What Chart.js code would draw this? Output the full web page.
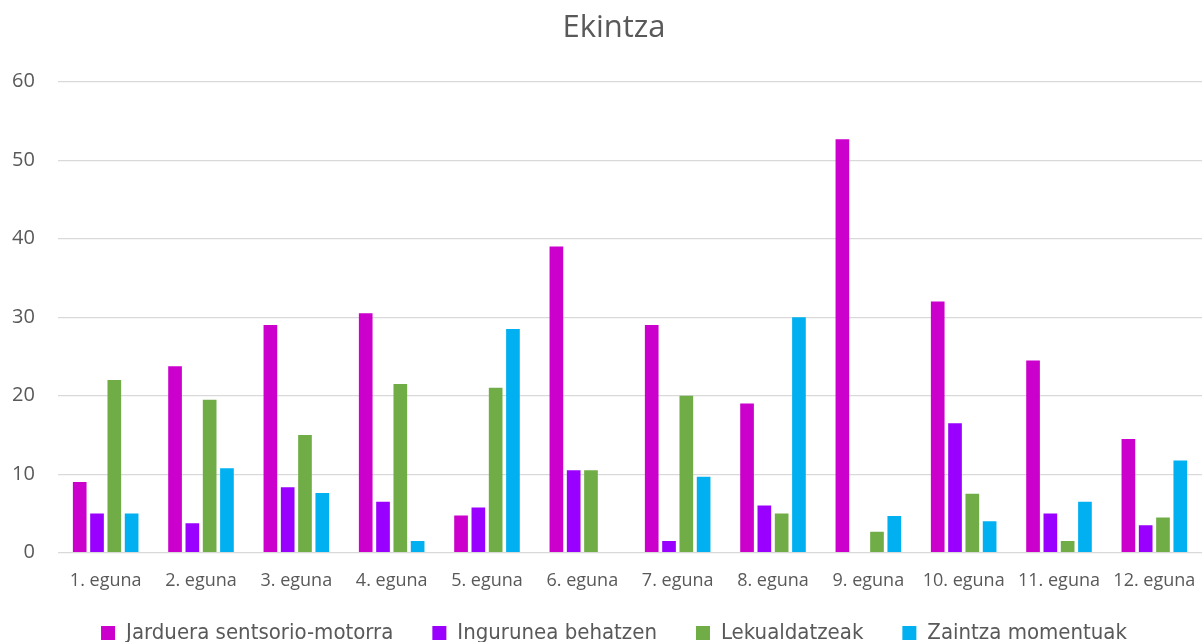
<!DOCTYPE html>
<html>
<head>
<meta charset="utf-8">
<script src="https://cdn.jsdelivr.net/npm/chart.js@4.4.1/dist/chart.umd.min.js"></script>
<style>
  html, body { margin: 0; padding: 0; background: #ffffff; }
  #wrap { width: 1202px; height: 642px; }
</style>
</head>
<body>
<div id="wrap"><canvas id="c" width="1202" height="642"></canvas></div>
<script>
const categories = ['1. eguna', '2. eguna', '3. eguna', '4. eguna', '5. eguna', '6. eguna',
                    '7. eguna', '8. eguna', '9. eguna', '10. eguna', '11. eguna', '12. eguna'];
const seriesNames = ['Jarduera sentsorio-motorra', 'Ingurunea behatzen', 'Lekualdatzeak', 'Zaintza momentuak'];
const jarduera   = [9, 23.75, 29, 30.5, 4.75, 39, 29, 19, 52.67, 32, 24.5, 14.5];
const ingurunea  = [5, 3.75, 8.33, 6.5, 5.75, 10.5, 1.5, 6, 0, 16.5, 5, 3.5];
const lekualdatz = [22, 19.5, 15, 21.5, 21, 10.5, 20, 5, 2.67, 7.5, 1.5, 4.5];
const zaintza    = [5, 10.75, 7.6, 1.5, 28.5, 0, 9.67, 30, 4.67, 4, 6.5, 11.75];
const yTicks = [0, 10, 20, 30, 40, 50, 60];
const chartTitle = 'Ekintza';

const colors = ['#CC00CC', '#9900FF', '#70AD47', '#00B0F0'];
const values = [jarduera, ingurunea, lekualdatz, zaintza];
const textColor = '#595959';

new Chart(document.getElementById('c'), {
  type: 'bar',
  data: {
    labels: categories,
    datasets: seriesNames.map((n, i) => ({
      label: n,
      data: values[i],
      backgroundColor: colors[i],
      borderWidth: 0,
      categoryPercentage: 0.726,
      barPercentage: 0.79
    }))
  },
  options: {
    responsive: false,
    animation: false,
    devicePixelRatio: 1,
    layout: { padding: { left: 26, right: 0, top: 0, bottom: 0 } },
    plugins: {
      title: {
        display: true,
        text: chartTitle,
        color: textColor,
        font: { family: '"Open Sans", sans-serif', size: 31, weight: 'normal', lineHeight: 1.2 },
        padding: { top: 9.5, bottom: 35 }
      },
      legend: {
        position: 'bottom',
        maxHeight: 50.8,
        title: { display: true, text: '', font: { size: 1, lineHeight: 1.2 }, padding: { top: 0, bottom: -9.4 } },
        labels: {
          boxWidth: 14,
          boxHeight: 14,
          padding: 39,
          color: textColor,
          font: { family: '"DejaVu Sans Condensed", sans-serif', size: 22 }
        }
      },
      tooltip: { enabled: false }
    },
    scales: {
      x: {
        grid: { display: false, drawTicks: false },
        border: { display: false },
        ticks: {
          color: textColor,
          font: { family: '"Open Sans", sans-serif', size: 18 },
          padding: 17,
          maxRotation: 0,
          autoSkip: false
        },
        afterFit: (s) => { s.height = 38.5; s.paddingLeft = 0; s.paddingRight = 0; }
      },
      y: {
        min: 0,
        max: 60,
        afterBuildTicks: (s) => { s.ticks = yTicks.map(v => ({ value: v })); },
        grid: { color: '#D9D9D9', lineWidth: 1.3, drawTicks: false },
        border: { display: false },
        ticks: {
          color: textColor,
          font: { family: '"Open Sans", sans-serif', size: 20 },
          mirror: true,
          crossAlign: 'far',
          padding: -46
        },
        afterFit: (s) => { s.width = 32; }
      }
    }
  }
});
</script>
</body>
</html>
